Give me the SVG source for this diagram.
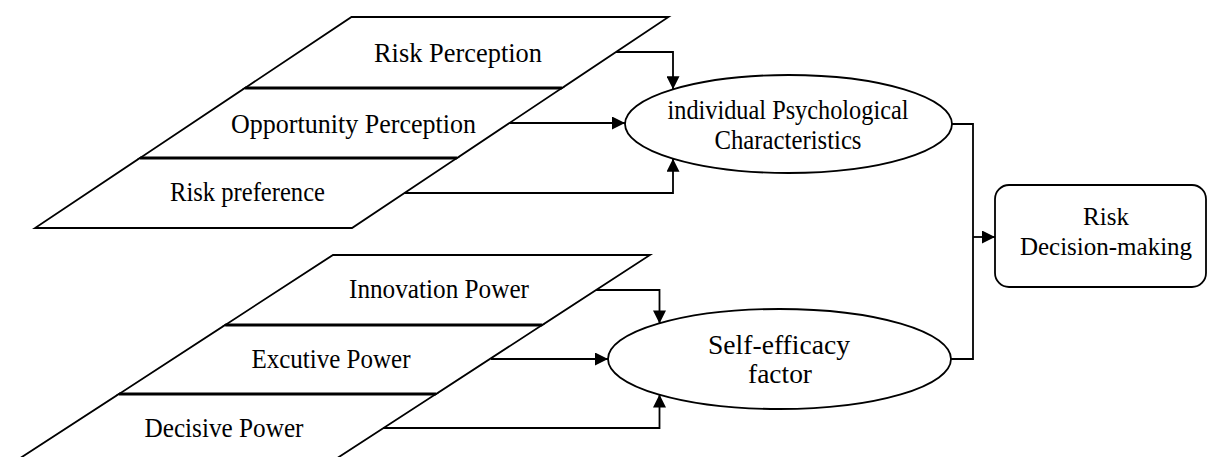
<svg xmlns="http://www.w3.org/2000/svg" width="1208" height="457" viewBox="0 0 1208 457">
<defs>
<marker id="arr" markerUnits="userSpaceOnUse" markerWidth="14" markerHeight="13" refX="13" refY="6.5" orient="auto">
<path d="M0,0 L13,6.5 L0,13 z" fill="#000"/>
</marker>
<style>
.band{fill:#fff;stroke:#000;stroke-width:1.8;stroke-linejoin:miter}
.div{stroke:#000;stroke-width:2.8}
.shape{fill:#fff;stroke:#000;stroke-width:1.8}
.t{font-family:"Liberation Serif","Times New Roman",serif;font-size:27.5px;fill:#000;text-anchor:middle}
.b{font-family:"Liberation Serif","Times New Roman",serif;font-size:25px;fill:#000;text-anchor:middle}
.c{fill:none;stroke:#000;stroke-width:1.8}
</style>
</defs>
<rect width="1208" height="457" fill="#fff"/>

<g id="risk-perception">
<polygon class="band" points="351.5,17 668.5,17 562,88 245,88"/>
<text class="t" x="458" y="62" textLength="168" lengthAdjust="spacingAndGlyphs">Risk Perception</text>
</g>
<g id="opportunity-perception">
<polygon class="band" points="245,88 562,88 457,158 140,158"/>
<line class="div" x1="245" y1="88" x2="562" y2="88"/>
<text class="t" x="353.5" y="133" textLength="245" lengthAdjust="spacingAndGlyphs">Opportunity Perception</text>
</g>
<g id="risk-preference">
<polygon class="band" points="140,158 457,158 352,228 35,228"/>
<line class="div" x1="140" y1="158" x2="457" y2="158"/>
<text class="t" x="247.5" y="201" textLength="155" lengthAdjust="spacingAndGlyphs">Risk preference</text>
</g>

<g id="innovation-power">
<polygon class="band" points="333,255 650,255 542.2,325 225.2,325"/>
<text class="t" x="439" y="298" textLength="180" lengthAdjust="spacingAndGlyphs">Innovation Power</text>
</g>
<g id="excutive-power">
<polygon class="band" points="225.2,325 542.2,325 436,394 119,394"/>
<line class="div" x1="225.2" y1="325" x2="542.2" y2="325"/>
<text class="t" x="331" y="368" textLength="159" lengthAdjust="spacingAndGlyphs">Excutive Power</text>
</g>
<g id="decisive-power">
<polygon class="band" points="119,394 436,394 328.1,464 11.1,464"/>
<line class="div" x1="119" y1="394" x2="436" y2="394"/>
<text class="t" x="224" y="437" textLength="159" lengthAdjust="spacingAndGlyphs">Decisive Power</text>
</g>

<g id="individual-psychological-characteristics">
<ellipse class="shape" cx="788.5" cy="124" rx="163.5" ry="49"/>
<text class="t" x="788" y="119" textLength="241" lengthAdjust="spacingAndGlyphs">individual Psychological</text>
<text class="t" x="788" y="149" textLength="147" lengthAdjust="spacingAndGlyphs">Characteristics</text>
</g>

<g id="self-efficacy-factor">
<ellipse class="shape" cx="779.5" cy="359" rx="171.5" ry="50"/>
<text class="t" x="779" y="354" textLength="142" lengthAdjust="spacingAndGlyphs">Self-efficacy</text>
<text class="t" x="780" y="383" textLength="64" lengthAdjust="spacingAndGlyphs">factor</text>
</g>

<g id="risk-decision-making">
<rect class="shape" x="995" y="185" width="211" height="102" rx="14" ry="14"/>
<text class="b" x="1106" y="225">Risk</text>
<text class="b" x="1106" y="255">Decision-making</text>
</g>

<g id="connectors">
<polyline class="c" points="616,52 673,52 673,89.3" marker-end="url(#arr)"/>
<polyline class="c" points="509.5,123 625,123" marker-end="url(#arr)"/>
<polyline class="c" points="404.5,193 673,193 673,158.7" marker-end="url(#arr)"/>
<polyline class="c" points="596,290 659.5,290 659.5,323.4" marker-end="url(#arr)"/>
<polyline class="c" points="491,359 608,359" marker-end="url(#arr)"/>
<polyline class="c" points="383,428 659.5,428 659.5,394.6" marker-end="url(#arr)"/>
<polyline class="c" points="952,124 973,124 973,359 951,359"/>
<polyline class="c" points="973,237 995,237" marker-end="url(#arr)"/>
</g>
</svg>
